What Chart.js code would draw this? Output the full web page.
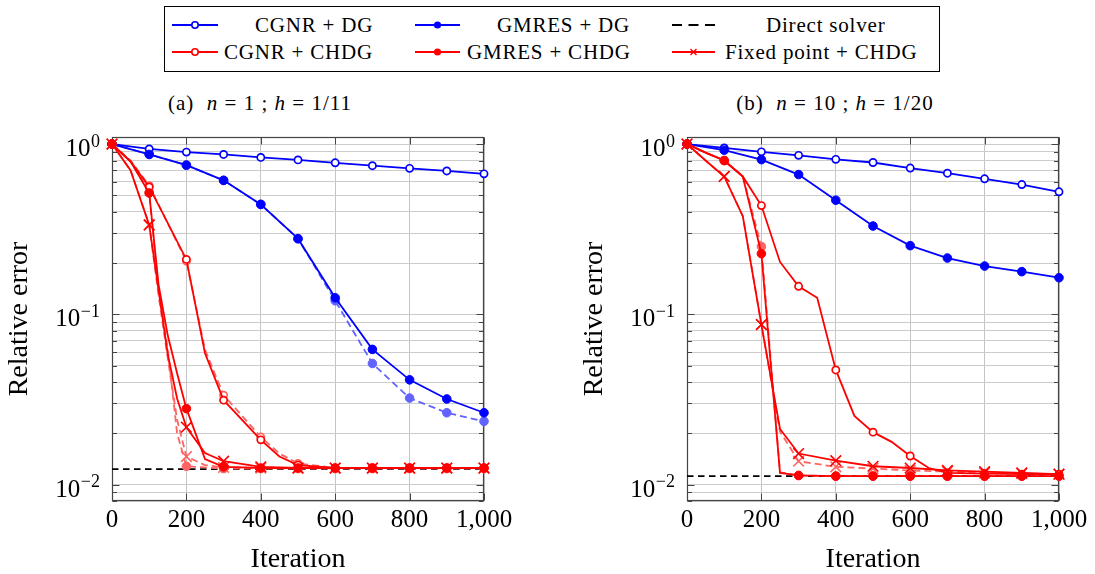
<!DOCTYPE html>
<html>
<head>
<meta charset="utf-8">
<script src="https://cdn.jsdelivr.net/npm/chart.js@4.4.0/dist/chart.umd.min.js"></script>
<style>
  body { margin: 0; background: #fff; }
  #page { position: relative; width: 1095px; height: 574px; overflow: hidden; font-family: "Liberation Serif", "Times New Roman", serif; }
  .sub { position: absolute; top: 90px; font-size: 21px; letter-spacing: 1px; white-space: pre; transform: translateX(-50%); line-height: 26px; }
  canvas { position: absolute; top: 110px; }
  #legend { position: absolute; left: 0; top: 0; }
  #legend text { font-family: "Liberation Serif", "Times New Roman", serif; font-size: 21px; letter-spacing: 0.8px; }
</style>
</head>
<body>
<div id="page">
  <svg id="legend" width="1095" height="80">
    <rect x="164.5" y="6.5" width="775" height="65" fill="#fff" stroke="#000" stroke-width="1"/>
    <!-- row 1 -->
    <line x1="172" y1="25" x2="218" y2="25" stroke="#0000ff" stroke-width="2"/>
    <circle cx="195" cy="25" r="3.2" fill="#fff" stroke="#0000ff" stroke-width="1.6"/>
    <text x="255" y="32">CGNR + DG</text>
    <line x1="415" y1="25" x2="460" y2="25" stroke="#0000ff" stroke-width="2"/>
    <circle cx="437.5" cy="25" r="3.6" fill="#0000ff"/>
    <text x="497" y="32">GMRES + DG</text>
    <line x1="672" y1="25" x2="715" y2="25" stroke="#000" stroke-width="2" stroke-dasharray="10 6.5"/>
    <text x="766" y="32">Direct solver</text>
    <!-- row 2 -->
    <line x1="172" y1="52" x2="218" y2="52" stroke="#ff0000" stroke-width="2"/>
    <circle cx="195" cy="52" r="3.2" fill="#fff" stroke="#ff0000" stroke-width="1.6"/>
    <text x="224" y="59">CGNR + CHDG</text>
    <line x1="415" y1="52" x2="460" y2="52" stroke="#ff0000" stroke-width="2"/>
    <circle cx="437.5" cy="52" r="3.6" fill="#ff0000"/>
    <text x="467" y="59">GMRES + CHDG</text>
    <line x1="672" y1="52" x2="715" y2="52" stroke="#ff0000" stroke-width="2"/>
    <path d="M690.5 49 L696.5 55 M690.5 55 L696.5 49" stroke="#ff0000" stroke-width="1.4"/>
    <text x="725" y="59">Fixed point + CHDG</text>
  </svg>
  <div class="sub" style="left:260px">(a)  <i>n</i> = 1 ; <i>h</i> = 1/11</div>
  <div class="sub" style="left:835px">(b)  <i>n</i> = 10 ; <i>h</i> = 1/20</div>
  <canvas id="chartA" width="540" height="464" style="left:0"></canvas>
  <canvas id="chartB" width="520" height="464" style="left:575px"></canvas>
</div>
<script>
// ---- axis labels ----
const xTitle = 'Iteration';
const yTitle = 'Relative error';
const yTickValues = [0.01, 0.1, 1];
const yTickBase = '10';
const yTickExps = ['\u22122', '\u22121', '0'];

// ---- (a) n = 1 ; h = 1/11 ----
const aIterDg = [0, 100, 200, 300, 400, 500, 600, 700, 800, 900, 1000];
const aCgnrDg = [1, 0.936, 0.897, 0.869, 0.835, 0.807, 0.776, 0.746, 0.72, 0.695, 0.668];
const aGmresDg = [1, 0.869, 0.752, 0.612, 0.442, 0.278, 0.125, 0.0622, 0.0412, 0.0318, 0.0264];
const aGmresDgAlt = [1, 0.869, 0.752, 0.612, 0.442, 0.278, 0.12, 0.0514, 0.0322, 0.0264, 0.0235];

const aIterCgnrChdg = [0, 50, 100, 200, 250, 300, 400, 450, 500, 600, 700, 800, 900, 1000];
const aCgnrChdg = [1, 0.79, 0.56, 0.21, 0.059, 0.0313, 0.0183, 0.0146, 0.013, 0.0125, 0.0125, 0.0125, 0.0125, 0.0125];
const aCgnrChdgAlt = [1, 0.8, 0.57, 0.205, 0.062, 0.0335, 0.019, 0.0152, 0.0133, 0.0125, 0.0125, 0.0125, 0.0125, 0.0125];

const aIterChdg = [0, 50, 100, 125, 150, 175, 200, 250, 300, 400, 500, 600, 700, 800, 900, 1000];
const aGmresChdg = [1, 0.79, 0.516, 0.15, 0.075, 0.045, 0.0279, 0.0141, 0.0127, 0.0125, 0.0125, 0.0125, 0.0125, 0.0125, 0.0125, 0.0125];
const aGmresChdgAlt = [1, 0.79, 0.52, 0.14, 0.062, 0.02, 0.0128, 0.0126, 0.0124, 0.0124, 0.0124, 0.0124, 0.0124, 0.0124, 0.0124, 0.0124];
const aFixedChdg = [1, 0.70, 0.335, 0.14, 0.058, 0.032, 0.0217, 0.0153, 0.0137, 0.0127, 0.0125, 0.0125, 0.0125, 0.0125, 0.0125, 0.0125];
const aFixedChdgAlt = [1, 0.70, 0.335, 0.13, 0.055, 0.024, 0.0146, 0.013, 0.0126, 0.0125, 0.0125, 0.0125, 0.0125, 0.0125, 0.0125, 0.0125];

const aIterDirect = [0, 1000];
const aDirect = [0.0123, 0.0123];

// ---- (b) n = 10 ; h = 1/20 ----
const bIterDg = [0, 100, 200, 300, 400, 500, 600, 700, 800, 900, 1000];
const bCgnrDg = [1, 0.949, 0.9, 0.858, 0.813, 0.779, 0.723, 0.674, 0.625, 0.578, 0.524];
const bGmresDg = [1, 0.92, 0.81, 0.662, 0.468, 0.33, 0.253, 0.214, 0.192, 0.178, 0.164];

const bIterCgnrChdg = [0, 50, 100, 150, 200, 250, 300, 350, 400, 450, 500, 550, 600, 650, 700, 800, 900, 1000];
const bCgnrChdg = [1, 0.89, 0.80, 0.645, 0.435, 0.203, 0.146, 0.125, 0.0471, 0.0253, 0.0203, 0.0178, 0.0147, 0.0125, 0.0117, 0.0116, 0.0115, 0.0115];

const bIterChdg = [0, 50, 100, 150, 200, 250, 300, 400, 500, 600, 700, 800, 900, 1000];
const bGmresChdg = [1, 0.89, 0.80, 0.645, 0.227, 0.0117, 0.0113, 0.0112, 0.0112, 0.0112, 0.0112, 0.0112, 0.0112, 0.0112];
const bGmresChdgAlt = [1, 0.89, 0.80, 0.65, 0.25, 0.0118, 0.0113, 0.0112, 0.0112, 0.0112, 0.0112, 0.0112, 0.0112, 0.0112];
const bFixedChdg = [1, 0.80, 0.645, 0.377, 0.087, 0.0212, 0.0152, 0.0138, 0.0128, 0.0125, 0.0121, 0.0119, 0.0117, 0.0115];
const bFixedChdgAlt = [1, 0.80, 0.645, 0.377, 0.087, 0.0205, 0.0137, 0.0127, 0.0124, 0.0121, 0.0119, 0.0117, 0.0116, 0.0115];

const bIterDirect = [0, 1000];
const bDirect = [0.0112, 0.0112];

// ---- styling helpers ----
const blue = '#0000ff', red = '#ff0000';
const blueLight = '#6262ff', redLight = '#ff6464';
const serif = "'Liberation Serif', 'Times New Roman', serif";

Chart.defaults.font.family = serif;
Chart.defaults.color = '#000';

function pts(xs, ys) {
    return xs.map((x, i) => ({ x: x, y: ys[i] }));
}
// markers only every 100 iterations
function atHundreds(r) {
    return ctx => (ctx.raw && ctx.raw.x % 100 === 0 ? r : 0);
}
function openMarks(color) {
    return { pointStyle: 'circle', pointRadius: atHundreds(3.6), pointBackgroundColor: '#fff', pointBorderColor: color, pointBorderWidth: 1.7 };
}
function filledMarks(color) {
    return { pointStyle: 'circle', pointRadius: atHundreds(4.3), pointBackgroundColor: color, pointBorderColor: color, pointBorderWidth: 1 };
}
function crossMarks(color) {
    return { pointStyle: 'crossRot', pointRadius: atHundreds(7.5), pointBackgroundColor: color, pointBorderColor: color, pointBorderWidth: 1.6 };
}
function noMarks() {
    return { pointRadius: 0 };
}
function series(label, xs, ys, color, marks, dash) {
    return Object.assign({
        label: label,
        data: pts(xs, ys),
        borderColor: color,
        backgroundColor: color,
        borderWidth: 1.8,
        borderDash: dash || [],
        tension: 0,
        fill: false,
        clip: false,
        pointHoverRadius: 0
    }, marks);
}

// grid values for the log axis: 1..9 per decade
const yGrid = [];
[-3, -2, -1, 0].forEach(e => {
    for (let m = 1; m <= 9; m++) {
        const v = Number((m * Math.pow(10, e)).toPrecision(6));
        if (v >= 0.008 && v <= 1.1) yGrid.push(v);
    }
});

function isDecade(v) {
    return yTickValues.some(t => Math.abs(t - v) / t < 1e-6);
}

// frame, inner tick marks and 10^k labels drawn like pgfplots
const framePlugin = {
    id: 'frame',
    beforeDatasetsDraw(chart) {
        const { ctx, chartArea: a, scales } = chart;
        const L = Math.round(a.left) + 0.5, R = Math.round(a.right) - 0.5;
        const T = Math.round(a.top) + 0.5, B = Math.round(a.bottom) - 0.5;
        ctx.save();
        ctx.strokeStyle = '#444';
        ctx.lineWidth = 1;
        ctx.beginPath();
        scales.y.ticks.forEach(t => {
            const y = Math.round(scales.y.getPixelForValue(t.value)) + 0.5;
            const len = isDecade(t.value) ? 7 : 4.5;
            ctx.moveTo(L, y); ctx.lineTo(L + len, y);
            ctx.moveTo(R, y); ctx.lineTo(R - len, y);
        });
        scales.x.ticks.forEach(t => {
            const x = Math.round(scales.x.getPixelForValue(t.value)) + 0.5;
            ctx.moveTo(x, T); ctx.lineTo(x, T + 7);
            ctx.moveTo(x, B); ctx.lineTo(x, B - 7);
        });
        ctx.stroke();
        ctx.lineWidth = 1.2;
        ctx.strokeRect(L, T, R - L, B - T);
        ctx.restore();
    },
    afterDraw(chart) {
        const { ctx, scales } = chart;
        const right = scales.y.right - 12;
        ctx.save();
        ctx.fillStyle = '#000';
        ctx.textBaseline = 'alphabetic';
        yTickValues.forEach((v, i) => {
            const py = scales.y.getPixelForValue(v);
            ctx.font = '18px ' + serif;
            const ew = ctx.measureText(yTickExps[i]).width;
            ctx.textAlign = 'left';
            ctx.fillText(yTickExps[i], right - ew, py + 2.5);
            ctx.font = '25px ' + serif;
            ctx.textAlign = 'right';
            ctx.fillText(yTickBase, right - ew - 0.5, py + 12);
        });
        ctx.restore();
    }
};

function makeChart(id, datasets, rightPad) {
    return new Chart(document.getElementById(id), {
        type: 'line',
        data: { datasets: datasets },
        options: {
            responsive: false,
            animation: false,
            devicePixelRatio: 1,
            layout: { padding: { left: 0, right: rightPad, top: 19, bottom: 0 } },
            plugins: { legend: { display: false }, tooltip: { enabled: false } },
            scales: {
                x: {
                    type: 'linear',
                    min: 0,
                    max: 1000,
                    ticks: { stepSize: 200, font: { size: 25 }, padding: 4, maxRotation: 0 },
                    grid: { color: '#c4c4c4', drawTicks: false },
                    border: { display: false },
                    title: { display: true, text: xTitle, font: { size: 28, lineHeight: 1 }, padding: { top: 0, bottom: 0 } },
                    afterFit: s => { s.height = 73; }
                },
                y: {
                    type: 'logarithmic',
                    min: 0.008,
                    max: 1.1,
                    afterBuildTicks: s => { s.ticks = yGrid.map(v => ({ value: v })); },
                    ticks: { autoSkip: false, font: { size: 25 }, padding: 12, callback: () => '' },
                    grid: { color: '#cccccc', drawTicks: false },
                    border: { display: false },
                    title: { display: true, text: yTitle, font: { size: 28 }, padding: { top: 3, bottom: 0 } },
                    afterFit: s => { s.width = 112; }
                }
            }
        },
        plugins: [framePlugin]
    });
}

makeChart('chartA', [
    series('Fixed point + CHDG', aIterChdg, aFixedChdg, red, crossMarks(red)),
    series('GMRES + CHDG', aIterChdg, aGmresChdg, red, filledMarks(red)),
    series('CGNR + CHDG', aIterCgnrChdg, aCgnrChdg, red, openMarks(red)),
    series('GMRES + DG', aIterDg, aGmresDg, blue, filledMarks(blue)),
    series('CGNR + DG', aIterDg, aCgnrDg, blue, openMarks(blue)),
    series('Fixed point + CHDG (alt)', aIterChdg, aFixedChdgAlt, redLight, crossMarks(redLight), [7, 4]),
    series('GMRES + CHDG (alt)', aIterChdg, aGmresChdgAlt, redLight, filledMarks(redLight), [7, 4]),
    series('CGNR + CHDG (alt)', aIterCgnrChdg, aCgnrChdgAlt, redLight, openMarks(redLight), [7, 4]),
    series('GMRES + DG (alt)', aIterDg, aGmresDgAlt, blueLight, filledMarks(blueLight), [7, 4]),
    series('Direct solver', aIterDirect, aDirect, '#000', noMarks(), [6.5, 4.5])
], 56);

makeChart('chartB', [
    series('Fixed point + CHDG', bIterChdg, bFixedChdg, red, crossMarks(red)),
    series('GMRES + CHDG', bIterChdg, bGmresChdg, red, filledMarks(red)),
    series('CGNR + CHDG', bIterCgnrChdg, bCgnrChdg, red, openMarks(red)),
    series('GMRES + DG', bIterDg, bGmresDg, blue, filledMarks(blue)),
    series('CGNR + DG', bIterDg, bCgnrDg, blue, openMarks(blue)),
    series('Fixed point + CHDG (alt)', bIterChdg, bFixedChdgAlt, redLight, crossMarks(redLight), [7, 4]),
    series('GMRES + CHDG (alt)', bIterChdg, bGmresChdgAlt, redLight, filledMarks(redLight), [7, 4]),
    series('Direct solver', bIterDirect, bDirect, '#000', noMarks(), [6.5, 4.5])
], 36);
</script>
</body>
</html>
